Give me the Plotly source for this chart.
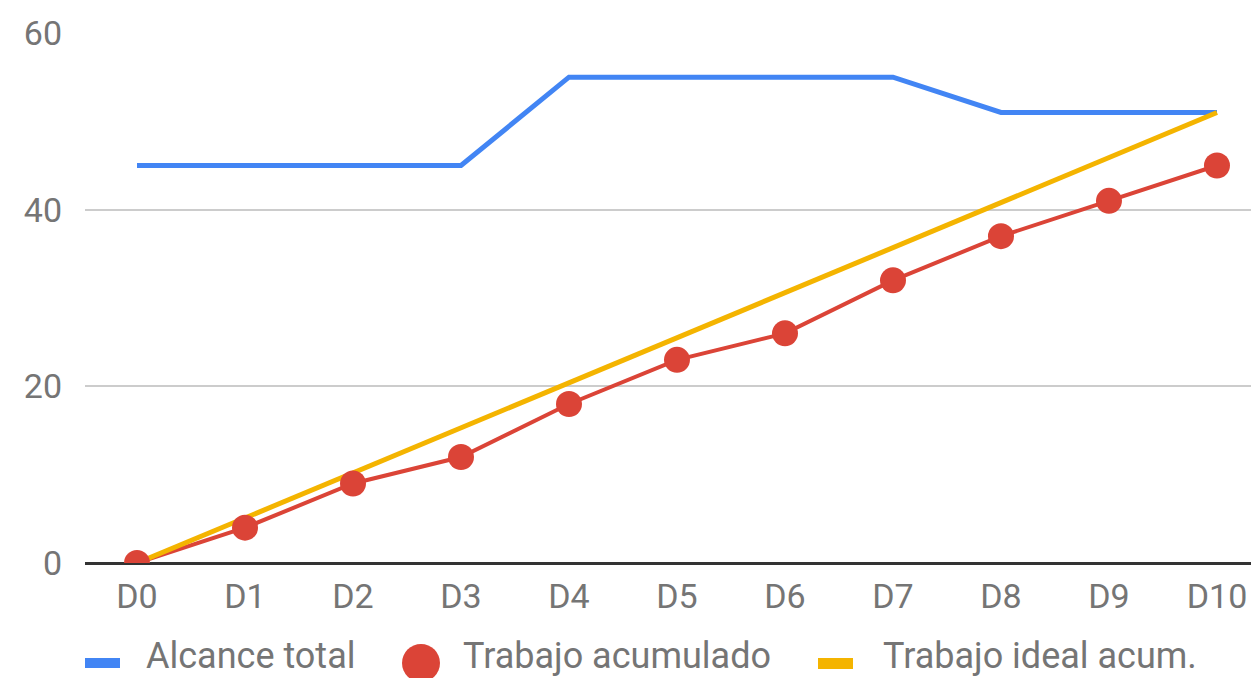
import plotly.graph_objects as go

dias = ["D0", "D1", "D2", "D3", "D4", "D5", "D6", "D7", "D8", "D9", "D10"]
alcance_total = [45, 45, 45, 45, 55, 55, 55, 55, 51, 51, 51]
trabajo_acumulado = [0, 4, 9, 12, 18, 23, 26, 32, 37, 41, 45]
trabajo_ideal = [0, 5.1, 10.2, 15.3, 20.4, 25.5, 30.6, 35.7, 40.8, 45.9, 51]
y_ticks = [0, 20, 40, 60]

AZUL = "#4285F4"
ROJO = "#DB4437"
AMARILLO = "#F4B400"
GRIS = "#757575"
FUENTE = "Roboto"

W, H = 1251, 678
M_L, M_R, M_T, M_B = 85, 0, 33, 115
PLOT_W = W - M_L - M_R
PLOT_H = H - M_T - M_B


def px_x(px):
    """Pixel column -> paper x."""
    return (px - M_L) / PLOT_W


def px_y(py):
    """Pixel row -> paper y."""
    return (H - M_B - py) / PLOT_H


fig = go.Figure()

fig.add_trace(go.Scatter(
    x=dias, y=alcance_total, mode="lines", name="Alcance total",
    line=dict(color=AZUL, width=5),
))
# red line beneath the yellow one; its markers go on top afterwards
fig.add_trace(go.Scatter(
    x=dias, y=trabajo_acumulado, mode="lines", name="Trabajo acumulado",
    line=dict(color=ROJO, width=4), hoverinfo="skip",
))
fig.add_trace(go.Scatter(
    x=dias, y=trabajo_ideal, mode="lines", name="Trabajo ideal acum.",
    line=dict(color=AMARILLO, width=5),
))
fig.add_trace(go.Scatter(
    x=dias, y=trabajo_acumulado, mode="markers", name="Trabajo acumulado",
    marker=dict(color=ROJO, size=26), cliponaxis=True,
))

# legend row drawn below the plot
shapes = [
    dict(type="rect", xref="paper", yref="paper",
         x0=px_x(85), x1=px_x(120), y0=px_y(668), y1=px_y(658),
         fillcolor=AZUL, line=dict(width=0)),
    dict(type="circle", xref="paper", yref="paper",
         x0=px_x(402), x1=px_x(440), y0=px_y(682), y1=px_y(644),
         fillcolor=ROJO, line=dict(width=0)),
    dict(type="rect", xref="paper", yref="paper",
         x0=px_x(818), x1=px_x(853), y0=px_y(669), y1=px_y(658),
         fillcolor=AMARILLO, line=dict(width=0)),
]
leyenda = [
    ("Alcance total", 145),
    ("Trabajo acumulado", 462),
    ("Trabajo ideal acum.", 882),
]
annotations = [
    dict(text=t, x=px_x(x0), y=px_y(678), xref="paper", yref="paper",
         xanchor="left", yanchor="bottom", showarrow=False, borderpad=0,
         font=dict(family=FUENTE, size=36, color=GRIS))
    for t, x0 in leyenda
]

fig.update_layout(
    width=W, height=H,
    margin=dict(l=M_L, r=M_R, t=M_T, b=M_B),
    paper_bgcolor="white", plot_bgcolor="white",
    font=dict(family=FUENTE, color=GRIS, size=34),
    showlegend=False,
    shapes=shapes,
    annotations=annotations,
    xaxis=dict(
        type="category", range=[-0.4815, 10.315],
        showgrid=False, showline=False, zeroline=False,
        ticks="", ticklabelstandoff=10,
        tickfont=dict(size=34, color=GRIS),
    ),
    yaxis=dict(
        range=[0, 60], tickvals=y_ticks,
        showgrid=True, gridcolor="#CCCCCC", gridwidth=2,
        zeroline=True, zerolinecolor="#333333", zerolinewidth=3,
        showline=False, ticks="", ticklabelstandoff=22,
        tickfont=dict(size=34, color=GRIS),
    ),
)

fig.write_html("out.html")
